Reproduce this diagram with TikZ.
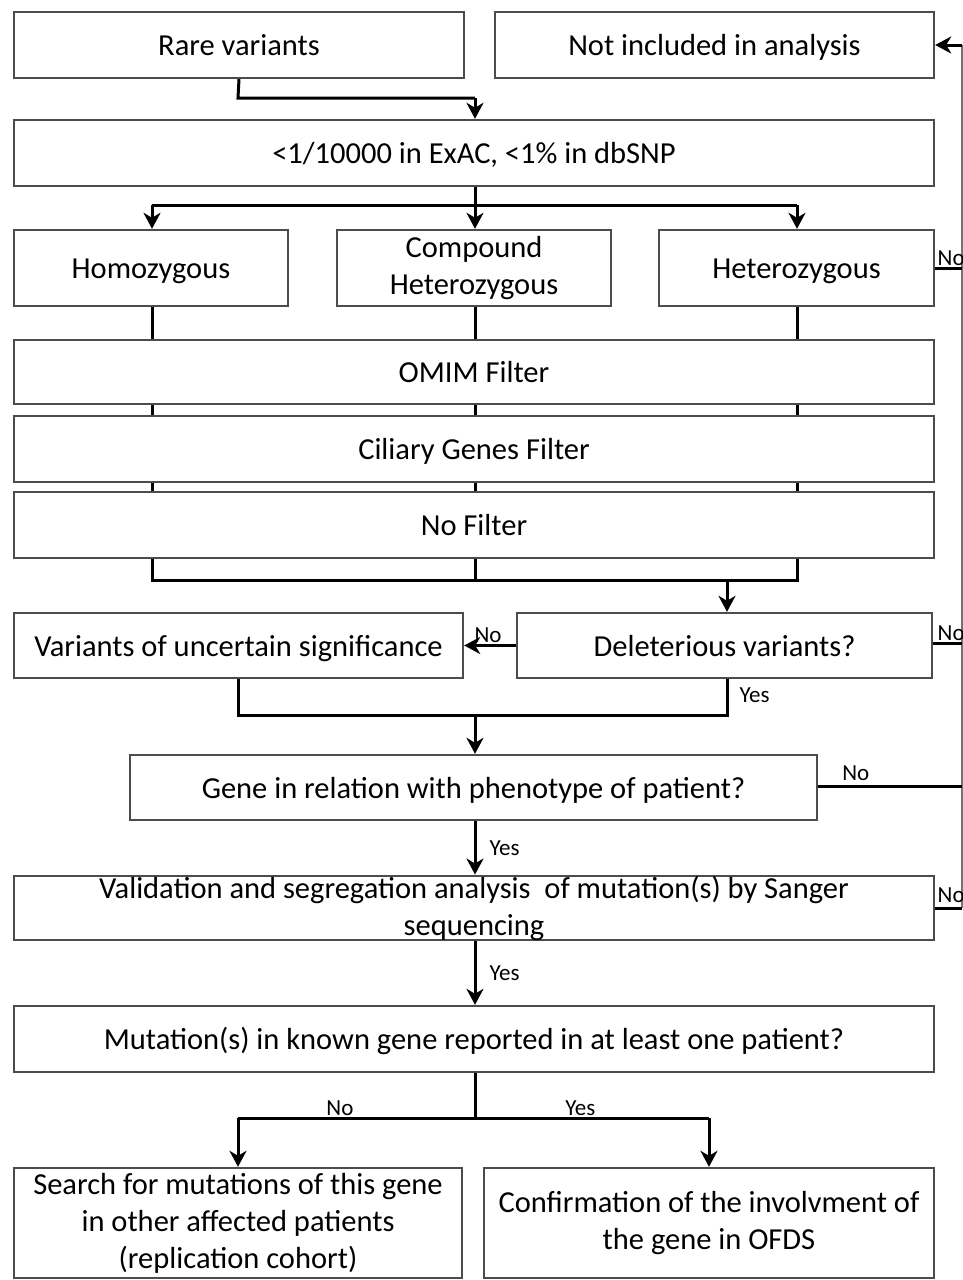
\documentclass[tikz,border=0pt]{standalone}
\usepackage{fontspec}
\setmainfont{Carlito}
\usetikzlibrary{arrows.meta,backgrounds}
\begin{document}
\begin{tikzpicture}[x=1pt,y=-1pt,
  box/.style={draw=black!70, line width=2.4pt, fill=white, inner sep=0pt, align=center,
    font=\fontsize{30.5}{37}\selectfont},
  one/.style={text height=25pt, text depth=4pt},
  conn/.style={line width=3pt, black},
  arr/.style={conn, -{Stealth[length=16pt,width=17pt,inset=5pt]}},
  lbl/.style={font=\fontsize{23}{26}\selectfont, inner sep=1pt},
  side/.style={line width=1.4pt, black!55}]
\useasboundingbox (0,0) rectangle (963,1280);

\node[box, one, minimum width=450pt, minimum height=66pt] (rare) at (239,45) {Rare variants};
\node[box, one, minimum width=439pt, minimum height=66pt] (notinc) at (714.5,45) {Not included in analysis};
\node[box, one, minimum width=920pt, minimum height=66pt] (exac) at (474,153) {<1/10000 in ExAC, <1\% in dbSNP};
\node[box, one, minimum width=274pt, minimum height=76pt] (homo) at (151,268) {Homozygous};
\node[box, minimum width=274pt, minimum height=76pt] (comp) at (474,268) {Compound\\Heterozygous};
\node[box, one, minimum width=275pt, minimum height=76pt] (het) at (796.5,268) {Heterozygous};
\node[box, one, minimum width=920pt, minimum height=64pt] (omim) at (474,372) {OMIM Filter};
\node[box, one, minimum width=920pt, minimum height=66pt] (cil) at (474,449) {Ciliary Genes Filter};
\node[box, one, minimum width=920pt, minimum height=66pt] (nof) at (474,525) {No Filter};
\node[box, one, minimum width=449pt, minimum height=65pt] (vus) at (238.5,645.5) {Variants of uncertain significance};
\node[box, one, minimum width=415pt, minimum height=65pt] (del) at (724.5,645.5) {Deleterious variants?};
\node[box, one, minimum width=687pt, minimum height=65pt] (gene) at (473.5,787.5) {Gene in relation with phenotype of patient?};
\node[box, minimum width=920pt, minimum height=64pt] (val) at (474,908) {Validation and segregation analysis\ \ of mutation(s) by Sanger\\sequencing};
\node[box, one, minimum width=920pt, minimum height=66pt] (mut) at (474,1039) {Mutation(s) in known gene reported in at least one patient?};
\node[box, minimum width=448pt, minimum height=110pt] (search) at (238,1223) {Search for mutations of this gene\\in other affected patients\\(replication cohort)};
\node[box, minimum width=450pt, minimum height=110pt] (conf) at (709,1223) {Confirmation of the involvment of\\the gene in OFDS};

% junction coordinates
\coordinate (j1) at (238,98);
\coordinate (j2) at (475,98);
\coordinate (j3) at (475,205);
\coordinate (jh) at (152,205);
\coordinate (jt) at (797,205);
\coordinate (f1) at (152,580);
\coordinate (f2) at (475,580);
\coordinate (f3) at (797,580);
\coordinate (fd) at (727,580);
\coordinate (dy) at (727,715);
\coordinate (vy) at (238,715);
\coordinate (gm) at (475,715);
\coordinate (mj) at (475,1118);
\coordinate (ml) at (238,1118);
\coordinate (mr) at (709,1118);
\coordinate (R0) at (962,45);
\coordinate (R1) at (962,268);
\coordinate (R2) at (962,643);
\coordinate (R3) at (962,786);
\coordinate (R4) at (962,908);

\begin{scope}[on background layer]
\fill[white] (0,0) rectangle (963,1280);
\draw[conn] (152,306) -- (f1) -- (f3) -- (797,306);
\draw[conn] (475,306) -- (f2);
\end{scope}

\draw[conn] (rare.south) -- (j1) -- (j2);
\draw[arr] (j2) -- (exac.north -| j2);
\draw[conn] (exac.south -| j3) -- (j3);
\draw[conn] (jh) -- (jt);
\draw[arr] (jh) -- (homo.north -| jh);
\draw[arr] (j3) -- (comp.north -| j3);
\draw[arr] (jt) -- (het.north -| jt);
\draw[arr] (fd) -- (del.north -| fd);
\draw[arr] (del.west) -- node[lbl, above, xshift=-2pt] {No} (vus.east);
\draw[conn] (del.south -| dy) -- node[lbl, right, pos=0.45, xshift=10pt] {Yes} (dy) -- (vy) -- (vus.south -| vy);
\draw[arr] (gm) -- (gene.north -| gm);
\draw[arr] (gene.south -| gm) -- node[lbl, right, xshift=12pt] {Yes} (val.north -| gm);
\draw[arr] (val.south -| gm) -- node[lbl, right, xshift=12pt] {Yes} (mut.north -| gm);
\draw[conn] (mut.south -| mj) -- (mj);
\draw[conn] (mj) -- node[lbl, above, pos=0.57] {No} (ml);
\draw[conn] (mj) -- node[lbl, above, pos=0.45] {Yes} (mr);
\draw[arr] (ml) -- (search.north -| ml);
\draw[arr] (mr) -- (conf.north -| mr);

% right side "No" returns
\draw[side] (R0) -- (R4);
\draw[arr] (R0) -- (notinc.east);
\draw[conn] (het.east) -- node[lbl, anchor=south west, pos=0, xshift=0pt] {No} (R1);
\draw[conn] (del.east |- R2) -- node[lbl, anchor=south west, pos=0, xshift=2pt] {No} (R2);
\draw[conn] (gene.east |- R3) -- node[lbl, anchor=south west, pos=0.15, yshift=3pt] {No} (R3);
\draw[conn] (val.east) -- node[lbl, anchor=south west, pos=0, xshift=0pt, yshift=3pt] {No} (R4);
\end{tikzpicture}
\end{document}
